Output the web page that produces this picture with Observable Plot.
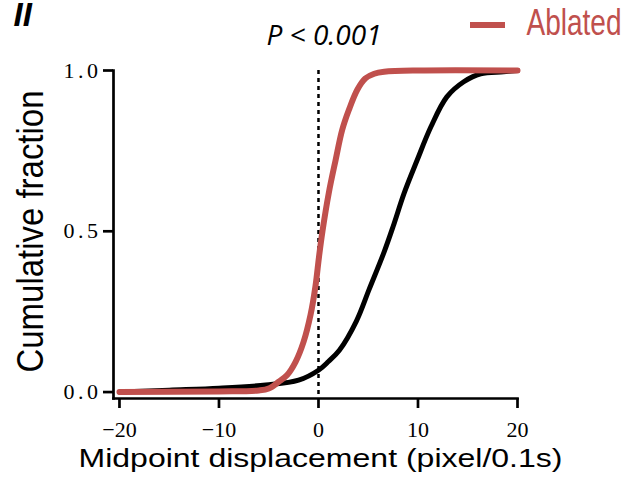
<!DOCTYPE html>
<html>
<head>
<meta charset="utf-8">
<script src="https://cdn.jsdelivr.net/npm/d3@7"></script>
<script src="https://cdn.jsdelivr.net/npm/@observablehq/plot@0.6"></script>
<style>
  html, body { margin: 0; padding: 0; background: #fff; }
  #wrap { position: relative; width: 628px; height: 478px; }
  #swatch { position: absolute; left: 470px; top: 22px; width: 35px; height: 6px; background: #c0504d; }
  g[aria-label="y-axis tick label"] text { letter-spacing: 3.5px; }
</style>
</head>
<body>
<div id="wrap"><div id="swatch"></div></div>
<script>
// Control (black) cumulative distribution
const controlX = [-20, -15, -10, -5.3, -2, 0, 1, 2.1, 3.8, 5.1, 6.6, 7.5, 8.6, 9.9, 11.3, 12.9, 14.6, 16.3, 18.6, 20];
const controlY = [0, 0.006, 0.012, 0.022, 0.037, 0.068, 0.095, 0.13, 0.22, 0.32, 0.436, 0.515, 0.618, 0.72, 0.825, 0.918, 0.965, 0.99, 0.996, 1.0];
// Ablated (red) cumulative distribution
const ablatedX = [-20, -10, -6, -5, -4, -3.15, -2.3, -1.5, -0.8, -0.3, 0.05, 0.4, 1.04, 1.71, 2.38, 3.05, 3.9, 4.7, 5.6, 6.6, 10, 20];
const ablatedY = [0, 0.002, 0.005, 0.011, 0.032, 0.053, 0.094, 0.156, 0.24, 0.33, 0.42, 0.50, 0.62, 0.72, 0.815, 0.877, 0.94, 0.975, 0.99, 0.996, 1.0, 1.0];

const xTicks = [-20, -10, 0, 10, 20];
const yTicks = [0, 0.5, 1.0];
const refLine = [0];
const xLabel = "Midpoint displacement (pixel/0.1s)";
const yLabel = "Cumulative fraction";
const pLabel = "P < 0.001";
const legendLabel = "Ablated";
const panelLabel = "II";

const red = "#c0504d";
const control = controlX.map((x, i) => ({x, y: controlY[i]}));
const ablated = ablatedX.map((x, i) => ({x, y: ablatedY[i]}));

const chart = Plot.plot({
  width: 628,
  height: 478,
  marginLeft: 113,
  marginRight: 111,
  marginTop: 70,
  marginBottom: 80,
  x: {domain: [-20.6, 20]},
  y: {domain: [-0.02, 1]},
  style: {background: "transparent", color: "#000"},
  marks: [
    Plot.frame({anchor: "left", strokeWidth: 2.7}),
    Plot.frame({anchor: "bottom", strokeWidth: 2.7}),
    Plot.axisX(xTicks, {tickSize: 10, tickPadding: 13, fontSize: 22, fontFamily: "Liberation Serif", strokeWidth: 2.7, label: null, tickFormat: d3.format("d")}),
    Plot.axisY(yTicks, {tickSize: 10, tickPadding: 2, fontSize: 22, fontFamily: "Liberation Serif", strokeWidth: 2.7, label: null, tickFormat: d3.format(".1f")}),
    Plot.ruleX(refLine, {stroke: "#000", strokeWidth: 2.5, strokeDasharray: "4,4"}),
    Plot.line(control, {x: "x", y: "y", stroke: "#000", strokeWidth: 5, curve: "catmull-rom"}),
    Plot.line(ablated, {x: "x", y: "y", stroke: red, strokeWidth: 6, curve: "catmull-rom"}),
    Plot.text([xLabel], {frameAnchor: "bottom", textAnchor: "middle", lineAnchor: "middle", dx: 5, dy: 60, fontSize: 25, fontFamily: "Liberation Sans", fill: "#000"}),
    Plot.text([yLabel], {frameAnchor: "left", textAnchor: "middle", lineAnchor: "middle", rotate: -90, dx: -82.5, dy: -3, fontSize: 36, fontFamily: "Liberation Sans", fill: "#000"}),
    Plot.text([pLabel], {frameAnchor: "top-left", textAnchor: "start", lineAnchor: "middle", dx: 153, dy: -34, fontSize: 28, fontStyle: "italic", fontFamily: "Open Sans", fill: "#000"}),
    Plot.text([legendLabel], {frameAnchor: "top-left", textAnchor: "start", lineAnchor: "middle", dx: 413, dy: -47.5, fontSize: 36, fontFamily: "Liberation Sans", fill: red}),
    Plot.text([panelLabel], {frameAnchor: "top-left", textAnchor: "start", lineAnchor: "middle", dx: -100, dy: -55, fontSize: 33, fontWeight: "bold", fontStyle: "italic", fontFamily: "Liberation Sans", fill: "#000"})
  ]
});

d3.select(chart).selectAll("text").each(function() {
  const t = this.textContent;
  if (t === xLabel) { this.setAttribute("textLength", 484); this.setAttribute("lengthAdjust", "spacingAndGlyphs"); }
  if (t === yLabel) { this.setAttribute("textLength", 282); this.setAttribute("lengthAdjust", "spacingAndGlyphs"); }
  if (t === legendLabel) { this.setAttribute("textLength", 95); this.setAttribute("lengthAdjust", "spacingAndGlyphs"); }
});

document.getElementById("wrap").prepend(chart);
</script>
</body>
</html>
